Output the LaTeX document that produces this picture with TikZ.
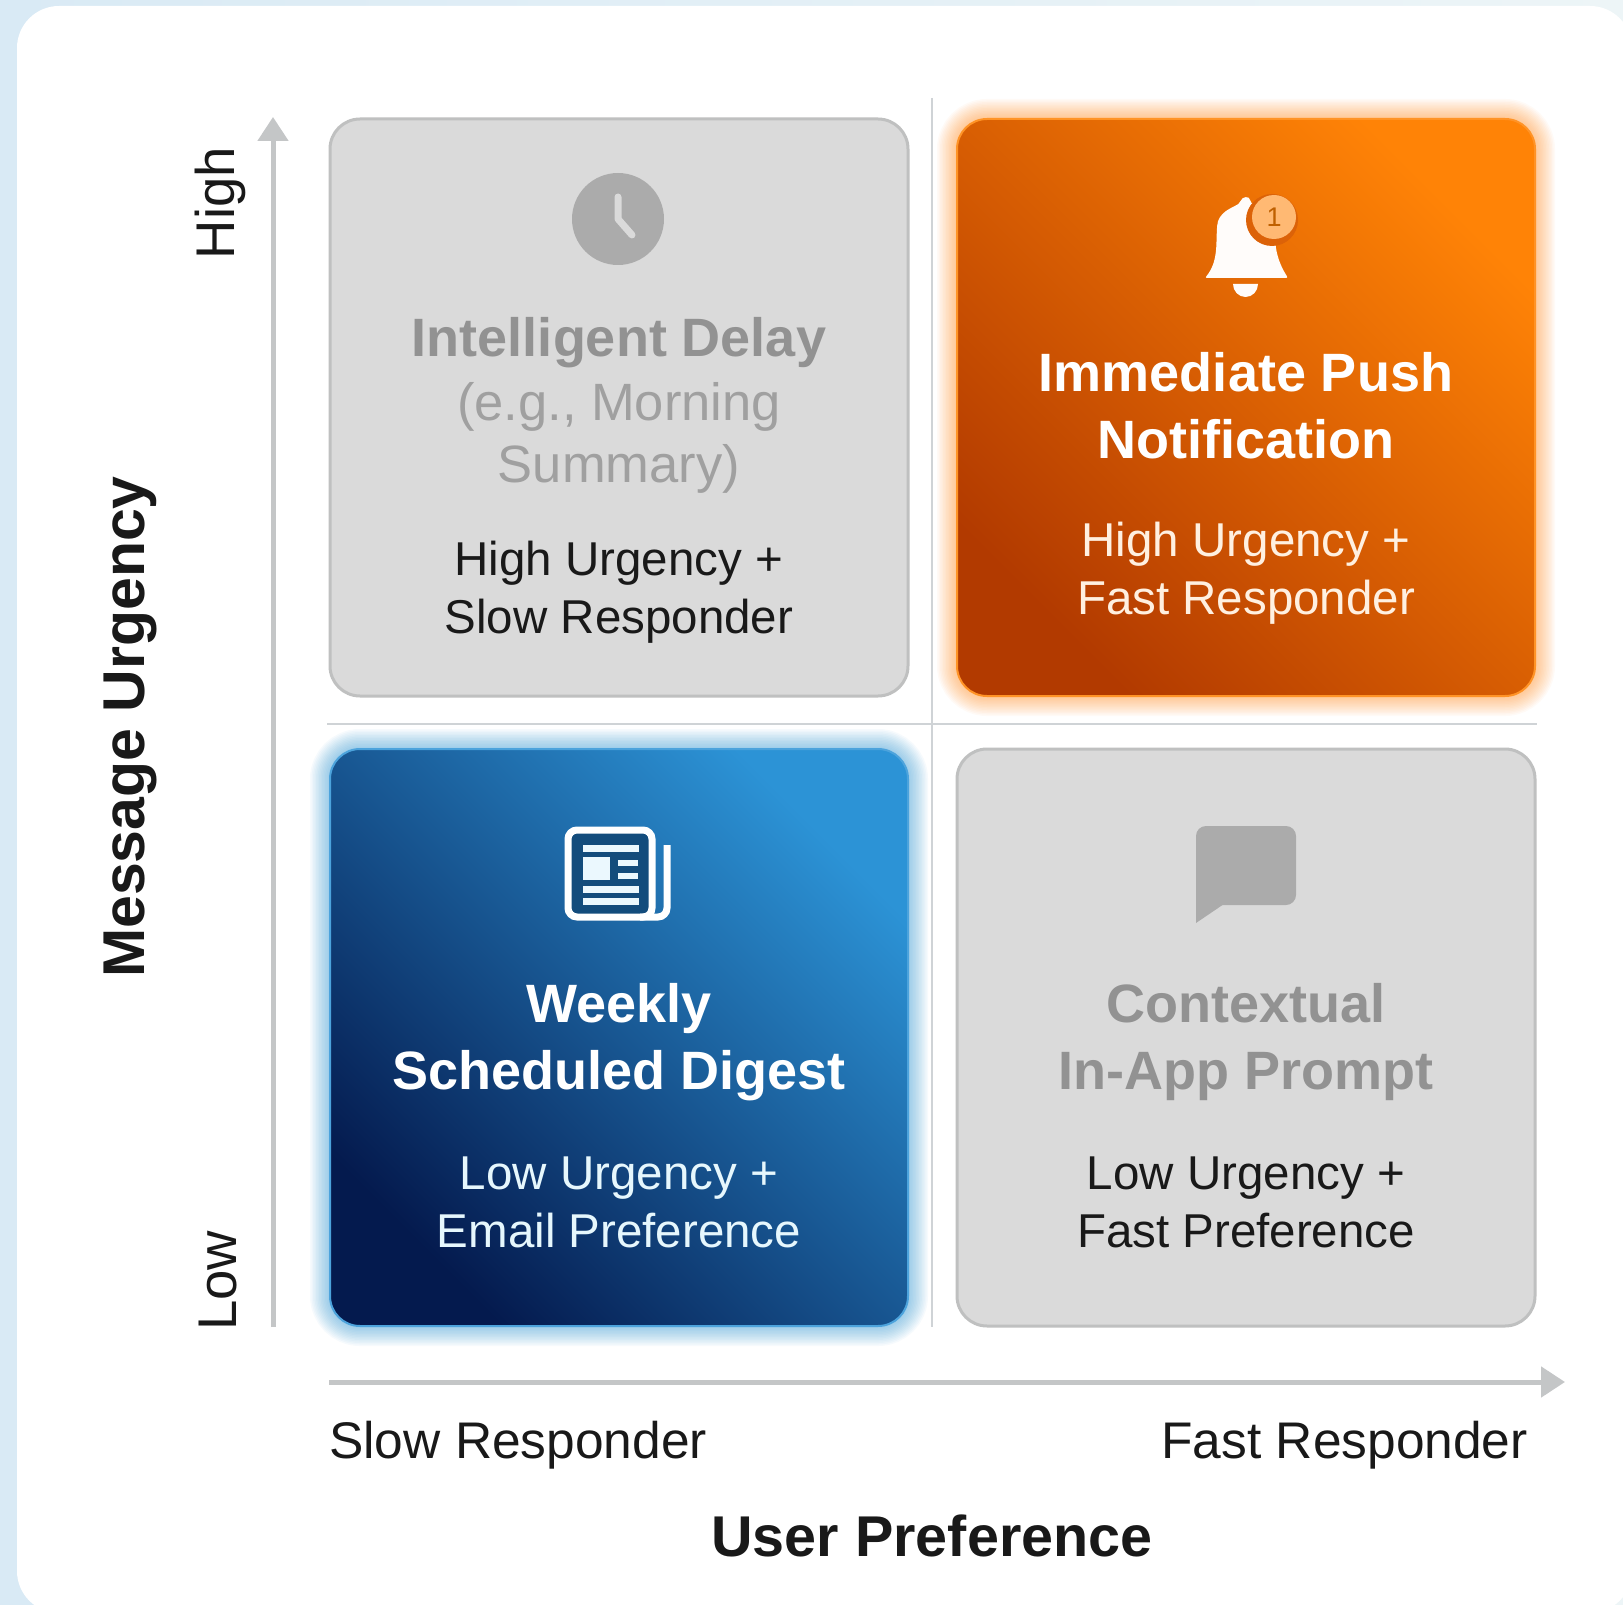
\documentclass[tikz,border=0pt]{standalone}
\usepackage{fontspec}
\setmainfont{Liberation Sans}
\usetikzlibrary{arrows.meta,positioning,backgrounds}
\definecolor{pageleft}{HTML}{D9EAF5}
\definecolor{pageright}{HTML}{EDF5F7}
\definecolor{axisgrey}{HTML}{C4C6C7}
\definecolor{divgrey}{HTML}{CFD3D6}
\definecolor{cardgrey}{HTML}{DADADA}
\definecolor{edgegrey}{HTML}{BFC0C0}
\definecolor{icongrey}{HTML}{ABABAB}
\definecolor{titlegrey}{HTML}{929292}
\definecolor{notegrey}{HTML}{A0A0A0}
\definecolor{hotorange}{HTML}{FF8306}
\definecolor{deeporange}{HTML}{B23A00}
\definecolor{midorange}{HTML}{DC6208}
\definecolor{skyblue}{HTML}{2C93D6}
\definecolor{navyblue}{HTML}{041A4E}
\definecolor{midblue}{HTML}{165A92}
\tikzset{
    %Define arrow style
    axis/.style={
           draw=axisgrey,
           line width=5pt,
           -{Triangle[length=24pt,width=30pt]}},
    divider/.style={
           draw=divgrey,
           line width=2.5pt},
    %Define style for boxes
    quadrant/.style={
           rectangle,
           rounded corners=30pt,
           outer sep=0pt,
           minimum width=578pt,
           minimum height=577pt},
    greybox/.style={
           quadrant,
           fill=cardgrey,
           draw=edgegrey,
           line width=3pt},
    orangebox/.style={
           quadrant,
           draw=orange!85!white,
           line width=2pt,
           left color=deeporange,
           middle color=midorange,
           right color=hotorange,
           shading angle=135},
    bluebox/.style={
           quadrant,
           draw=skyblue!85!white,
           line width=2pt,
           left color=navyblue,
           middle color=midblue,
           right color=skyblue,
           shading angle=135},
    %Define style for texts
    bigtitle/.style={
           font=\bfseries\fontsize{54}{67}\selectfont,
           align=center,
           inner sep=0pt},
    subtitle/.style={
           font=\fontsize{47.5}{58}\selectfont,
           align=center,
           inner sep=0pt},
    axistitle/.style={
           font=\bfseries\fontsize{59}{66}\selectfont,
           text=black!90,
           inner sep=0pt},
    axislabel/.style={
           font=\fontsize{51.5}{58}\selectfont,
           text=black!90,
           inner sep=0pt},
    endlabel/.style={
           font=\fontsize{54.5}{58}\selectfont,
           text=black!90,
           inner sep=0pt}
}

\begin{document}
\begin{tikzpicture}[x=1pt,y=-1pt]
\useasboundingbox (0,0) rectangle (1623,1605);
 %quadrants
\node[greybox](tl) at (619,407.5){};
\node[orangebox, right=49pt of tl](tr){};
\node[bluebox, below=53pt of tl](bl){};
\node[greybox, below=53pt of tr](br){};
 %background and glow
\begin{scope}[on background layer]
\shade[left color=pageleft, right color=pageright] (0,0) rectangle (1623,1605);
\fill[white, rounded corners=42pt] (17,6) rectangle (1632,1613);
\foreach \w in {4,7,...,40}{
  \draw[line width=\w pt, orange, opacity=0.035, rounded corners=30pt] (tr.south west) rectangle (tr.north east);
  \draw[line width=\w pt, cyan!70!blue, opacity=0.035, rounded corners=30pt] (bl.south west) rectangle (bl.north east);
}
\end{scope}
 %dividers
\coordinate (vtop) at (932,98);
\coordinate (vbot) at (932,1327);
\coordinate (hleft) at (327,724);
\coordinate (hright) at (1537,724);
\draw[divider] (vtop) -- (vbot);
\draw[divider] (hleft) -- (hright);
 %axes
\coordinate (ylow) at (273,1327);
\coordinate (yhigh) at (273,117);
\coordinate (xlow) at (329,1382);
\coordinate (xhigh) at (1565,1382);
\draw[axis] (ylow) -- (yhigh);
\draw[axis] (xlow) -- (xhigh);
\node[endlabel, rotate=90](high) at (220,203){High};
\node[endlabel, rotate=90](low) at (218,1281){Low};
\node[axistitle, rotate=90](urgency) at (130,727){Message Urgency};
\node[axislabel, anchor=west](slow) at (329,1445){Slow Responder};
\node[axislabel, anchor=east](fast) at (1528,1445){Fast Responder};
\node[axistitle, font=\bfseries\fontsize{57.5}{66}\selectfont](preference) at (932,1536){User Preference};
 %top left
\node[bigtitle, text=titlegrey](tltitle) at ([yshift=-224pt]tl.north){Intelligent Delay};
\node[subtitle, text=notegrey, font=\fontsize{52.5}{62}\selectfont](tlnote) at ([yshift=-319pt]tl.north){(e.g., Morning\\Summary)};
\node[subtitle, text=black!90](tlsub) at ([yshift=-473pt]tl.north){High Urgency +\\Slow Responder};
 %top right
\node[bigtitle, text=white](trtitle) at ([yshift=-287pt]tr.north){Immediate Push\\Notification};
\node[subtitle, text=orange!12!white](trsub) at ([yshift=-454pt]tr.north){High Urgency +\\Fast Responder};
 %bottom left
\node[bigtitle, text=white](bltitle) at ([yshift=-293pt]bl.north){Weekly\\Scheduled Digest};
\node[subtitle, text=cyan!10!white](blsub) at ([yshift=-453pt]bl.north){Low Urgency +\\Email Preference};
 %bottom right
\node[bigtitle, text=titlegrey](brtitle) at ([yshift=-293pt]br.north){Contextual\\In-App Prompt};
\node[subtitle, text=black!90](brsub) at ([yshift=-453pt]br.north){Low Urgency +\\Fast Preference};
 %clock icon
\node[circle, fill=icongrey, minimum size=92pt, inner sep=0pt](clock) at (618,219){};
\draw[cardgrey, line width=7pt, line cap=round, line join=round] (618,197) -- (618,219) -- (632,235);
 %bell icon
\fill[white!98!orange, rounded corners=2pt] (1205,278) .. controls (1218,262) and (1216,245) .. (1217,228)
   .. controls (1218,212) and (1232,208) .. (1240,203) .. controls (1242,196) and (1250,196) .. (1250,202)
   .. controls (1265,212) and (1274,218) .. (1275,232) .. controls (1275,250) and (1278,262) .. (1288,278) -- cycle;
\fill[white!98!orange] (1233,284) arc[start angle=180, end angle=360, x radius=12.5pt, y radius=13pt] -- cycle;
\fill[midorange] (1272,220) circle[radius=26pt];
\node[circle, fill=orange!55!white, minimum size=44pt, inner sep=0pt, text=orange!75!black,
   font=\fontsize{27}{27}\selectfont](badge) at (1274,217){1};
 %newspaper icon
\draw[white, line width=7pt, fill=midblue!85!black, rounded corners=9pt] (568,830) rectangle (652,917);
\draw[white, line width=7pt, rounded corners=9pt] (667,845) -- (667,917) -- (640,917);
\foreach \yy in {848,889,901}{
  \draw[white!92!cyan, line width=7pt] (583,\yy) -- (639,\yy);
}
\fill[white!92!cyan] (583,857) rectangle (610,880);
\foreach \yy in {863,876}{
  \draw[white!92!cyan, line width=6pt] (618,\yy) -- (638,\yy);
}
 %speech bubble icon
\fill[icongrey, rounded corners=10pt] (1196,905) -- (1196,826) -- (1296,826) -- (1296,905) -- cycle;
\fill[icongrey] (1196,895) -- (1196,923) -- (1224,904) -- cycle;
\end{tikzpicture}
\end{document}
